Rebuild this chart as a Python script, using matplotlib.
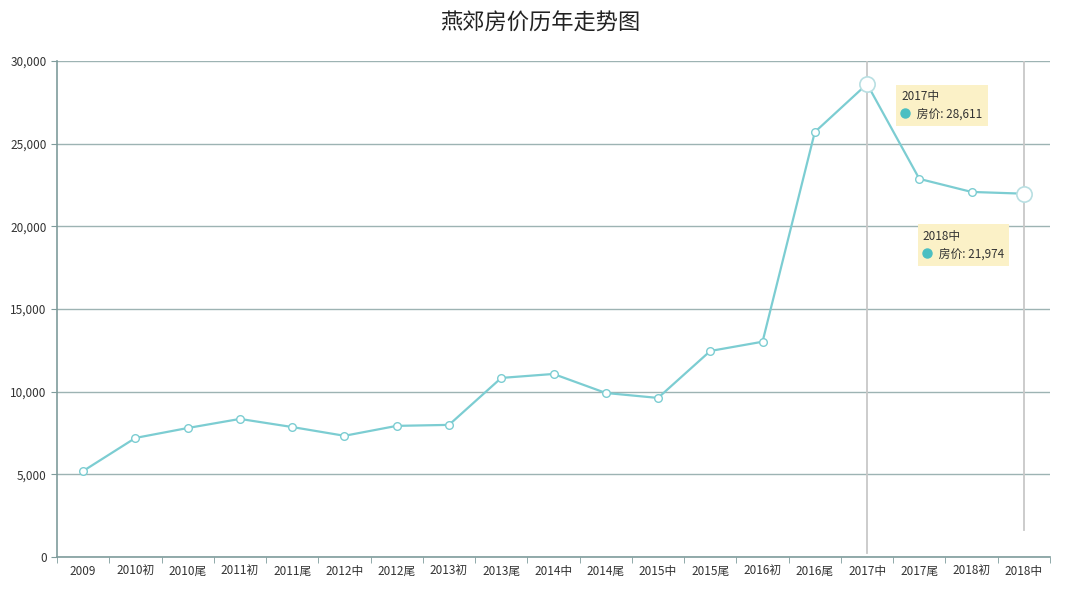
import numpy as np
import matplotlib
matplotlib.use("Agg")
import matplotlib.pyplot as plt
from matplotlib.transforms import offset_copy

plt.rcParams['font.family'] = ['Noto Sans CJK SC', 'DejaVu Sans']

# 数据
periodos = ['2009', '2010初', '2010尾', '2011初', '2011尾', '2012中', '2012尾', '2013初',
            '2013尾', '2014中', '2014尾', '2015中', '2015尾', '2016初', '2016尾',
            '2017中', '2017尾', '2018初', '2018中']
precios = [5200, 7200, 7800, 8350, 7860, 7330, 7930, 7990,
           10830, 11070, 9920, 9620, 12460, 13020, 25700,
           28611, 22870, 22080, 21974]
destacados = ['2017中', '2018中']

color_linea = '#7ccdd2'
color_eje = '#7f9c9c'

fig = plt.figure(figsize=(10.8, 5.98), dpi=100)
ax = fig.add_axes([0.0528, 0.0686, 0.9194, 0.8294])

x = np.arange(len(periodos))
ax.plot(x, precios, color=color_linea, lw=1.6, marker='o', ms=5.5,
        mfc='white', mec=color_linea, mew=1.0, zorder=3)

# puntos destacados (tooltip)
fin_linea = {'2017中': 0.008, '2018中': 0.055}
for p in destacados:
    i = periodos.index(p)
    ax.axvline(i, ymin=fin_linea[p], color='#c8c8c8', lw=1.3, zorder=2)
    ax.plot(i, precios[i], 'o', ms=11, mfc='white', mec='#b8dfe2', mew=1.2, zorder=4)

ax.set_xlim(-0.5, len(periodos) - 0.5)
ax.set_ylim(0, 30000)
ax.set_yticks(range(0, 30001, 5000))
ax.set_yticklabels([f'{v:,}' for v in range(0, 30001, 5000)])
ax.grid(axis='y', color='#9db3b3', lw=1.0)
ax.set_axisbelow(True)

ax.set_xticks(x)
ax.set_xticklabels(periodos)
ax.set_xticks(np.arange(-0.5, len(periodos)), minor=True)
ax.tick_params(axis='x', which='major', length=0, labelsize=8.5, colors='#333333', pad=6)
ax.tick_params(axis='x', which='minor', length=4, color=color_eje)
ax.tick_params(axis='y', length=4, color=color_eje, labelsize=8.5, labelcolor='#333333')

for s in ['top', 'right']:
    ax.spines[s].set_visible(False)
for s in ['left', 'bottom']:
    ax.spines[s].set_color(color_eje)
    ax.spines[s].set_linewidth(1.2)

# tooltips
offsets = {'2017中': (29, 0), '2018中': (-106, -30)}
for p in destacados:
    i = periodos.index(p)
    dx, dy = offsets[p]
    ax.annotate(f'{p}\n      房价: {precios[i]:,}', xy=(i, precios[i]),
                xytext=(dx + 5, dy - 6), textcoords='offset pixels',
                ha='left', va='top', fontsize=8.5, color='#333333', linespacing=1.5,
                bbox=dict(boxstyle='square,pad=0.45', fc='#fbf1c7', ec='none'),
                zorder=5)
    tr = offset_copy(ax.transData, fig=fig, x=dx + 9, y=dy - 29, units='dots')
    ax.plot(i, precios[i], 'o', ms=6.5, color='#4bbfc2', transform=tr, zorder=6)

fig.text(0.5, 0.962, '燕郊房价历年走势图', ha='center', va='center',
         fontsize=16, color='#222222')

fig.savefig('out.png', dpi=100, facecolor='white')
